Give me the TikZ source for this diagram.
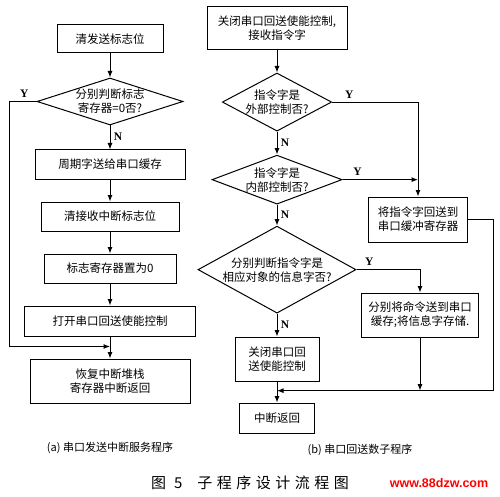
\documentclass[tikz,border=0pt]{standalone}
\usepackage{fontspec}
\setmainfont{Liberation Serif}
\newfontfamily\cjk{Noto Sans CJK SC}
\newfontfamily\cjkwide[LetterSpace=30]{Noto Sans CJK SC}
\newfontfamily\marksans{Liberation Sans}
\usetikzlibrary{arrows.meta, positioning, shapes.geometric}

\begin{document}
\begin{tikzpicture}[
  x=1pt, y=-1pt,
  every node/.style={font=\cjk\fontsize{11.5}{14}\selectfont},
  procbox/.style={draw, line width=1pt, minimum height=29pt, align=center, inner sep=2pt},
  decision/.style={draw, diamond, line width=1pt, align=center, inner sep=0pt},
  arrow/.style={-{Latex[length=6.5pt, width=5pt]}, line width=1pt},
  line/.style={line width=1pt},
  yn/.style={font=\bfseries\fontsize{11.5}{13}\selectfont},
  caption/.style={font=\cjk\fontsize{11}{13}\selectfont},
]
\useasboundingbox (0,0) rectangle (500,497);

% (a) send interrupt routine
\node[procbox, minimum width=106pt, minimum height=28pt] (clrsend) at (110,39) {清发送标志位};
\node[decision, minimum width=146pt, minimum height=47pt, aspect=3.1, below=24pt of clrsend] (flagchk) {分别判断标志\\寄存器=0否?};
\node[procbox, minimum width=150pt, below=24pt of flagchk] (period) {周期字送给串口缓存};
\node[procbox, minimum width=138pt, below=22pt of period] (clrrecv) {清接收中断标志位};
\node[procbox, minimum width=132pt, below=22pt of clrrecv] (setflag) {标志寄存器置为0};
\node[procbox, minimum width=171pt, minimum height=30pt, below=22pt of setflag] (enecho) {打开串口回送使能控制};
\node[procbox, minimum width=160pt, minimum height=44pt, below=22pt of enecho] (restore) {恢复中断堆栈\\寄存器中断返回};
\coordinate[above=12pt of restore] (joina);

\draw[arrow] (clrsend) -- (flagchk);
\draw[arrow] (flagchk) -- node[yn, right, pos=0.45] {N} (period);
\draw[arrow] (period) -- (clrrecv);
\draw[arrow] (clrrecv) -- (setflag);
\draw[arrow] (setflag) -- (enecho);
\draw[arrow] (enecho) -- (restore);
\draw[arrow] (flagchk.west) -- ++(-27,0) node[yn, above, pos=0.45] {Y} |- (joina);

% (b) echo routine
\node[procbox, minimum width=140pt, minimum height=43pt] (closeecho) at (277,28.5) {关闭串口回送使能控制,\\接收指令字};
\node[decision, minimum width=109pt, minimum height=58pt, aspect=1.88, below=22pt of closeecho] (extchk) {指令字是\\外部控制否?};
\node[decision, minimum width=130pt, minimum height=49pt, aspect=2.65, below=23pt of extchk] (intchk) {指令字是\\内部控制否?};
\node[decision, minimum width=158pt, minimum height=87pt, aspect=1.82, below=21pt of intchk] (infochk) {分别判断指令字是\\相应对象的信息字否?};
\node[procbox, minimum width=84pt, minimum height=44pt, below=23pt of infochk] (closeb) {关闭串口回\\送使能控制};
\node[procbox, minimum width=75pt, minimum height=30pt, below=21pt of closeb] (intret) {中断返回};
\coordinate[above=12pt of intret] (joinb);
\node[procbox, minimum width=99pt, minimum height=45pt] (echobuf) at (418,219.5) {将指令字回送到\\串口缓冲寄存器};
\node[procbox, minimum width=117pt, minimum height=44pt] (store) at (420,315) {分别将命令送到串口\\缓存;将信息字存储.};

\draw[arrow] (closeecho) -- (extchk);
\draw[arrow] (extchk) -- node[yn, right] {N} (intchk);
\draw[arrow] (intchk) -- node[yn, right] {N} (infochk);
\draw[arrow] (infochk) -- node[yn, right] {N} (closeb);
\draw[line] (closeb) -- (joinb);
\draw[arrow] (joinb) -- (intret);
\draw[arrow] (extchk.east) -| node[yn, above, pos=0.1] {Y} (echobuf.north);
\draw[arrow] (intchk.east) -- node[yn, above, pos=0.2] {Y} (intchk.east -| echobuf.north);
\draw[arrow] (infochk.east) -| node[yn, above, pos=0.1] {Y} (store.north);
\draw[arrow] (store.south) -- (store.south |- joinb);
\draw[arrow] (echobuf.east) -- ++(25,0) |- (joinb);

% captions
\node[caption] (capa) at (110,448) {(a) 串口发送中断服务程序};
\node[caption] (capb) at (360,450) {(b) 串口回送数子程序};
\node[font=\cjkwide\fontsize{15}{17}\selectfont] (figcap) at (250,483) {图 5\quad 子程序设计流程图};
\node[font=\marksans\bfseries\fontsize{12.5}{14}\selectfont, text=red] (mark) at (439,483) {www.88dzw.com};

\end{tikzpicture}
\end{document}
